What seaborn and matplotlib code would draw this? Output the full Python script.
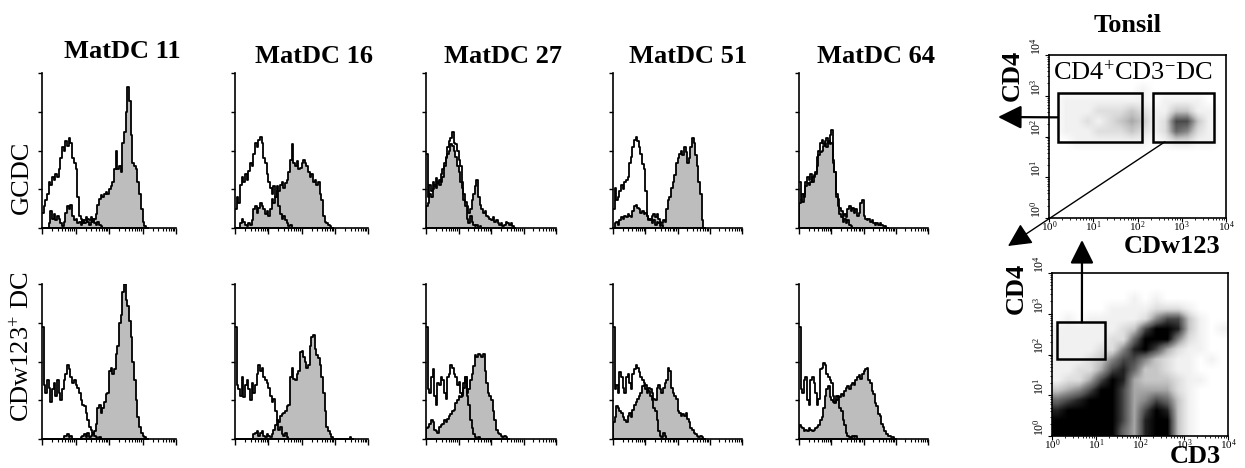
import numpy as np
import matplotlib
matplotlib.use("Agg")
import matplotlib.pyplot as plt
import seaborn as sns
from matplotlib.patches import Rectangle

sns.set_theme(style="ticks")
plt.rcParams["font.family"] = ["Liberation Serif", "DejaVu Serif"]
plt.rcParams["mathtext.fontset"] = "custom"
plt.rcParams["mathtext.rm"] = "Liberation Serif"
plt.rcParams["mathtext.it"] = "Liberation Serif:italic"
plt.rcParams["mathtext.bf"] = "Liberation Serif:bold"
plt.rcParams["text.color"] = "black"
plt.rcParams["xtick.color"] = "black"
plt.rcParams["ytick.color"] = "black"
plt.rcParams["xtick.labelcolor"] = "black"
plt.rcParams["ytick.labelcolor"] = "black"

# ---------------------------------------------------------------------------
# Data: histogram heights (% of max) in channels of 0.05 decade, starting at 10^0
# ---------------------------------------------------------------------------
BIN_W = 0.05

samples = ["MatDC 11", "MatDC 16", "MatDC 27", "MatDC 51", "MatDC 64"]
populations = ["GCDC", "CDw123$^{+}$ DC"]

# GCDC row: control (open) and antibody stain (filled)
gcdc_ctrl_11 = [10, 14, 18, 22, 30, 28, 33, 31, 35, 33, 38, 45, 52, 50, 56, 53, 58, 55, 45, 42,
                38, 20, 8, 6, 3, 5, 7, 4, 2, 4, 6, 3, 2, 4, 2, 1, 0]
gcdc_stain_11 = [0, 0, 0, 0, 3, 11, 6, 9, 5, 8, 6, 3, 1, 4, 10, 14, 12, 15, 8, 5,
                 6, 3, 4, 2, 5, 3, 4, 6, 5, 7, 4, 6, 9, 15, 19, 21, 20, 22, 23, 22,
                 25, 27, 30, 38, 50, 38, 40, 36, 55, 62, 75, 91, 82, 60, 42, 40, 38, 30, 22, 12,
                 4, 1, 0]
gcdc_ctrl_16 = [12, 20, 16, 28, 33, 30, 35, 31, 37, 42, 40, 48, 55, 52, 57, 59, 55, 45, 42, 35,
                30, 26, 22, 27, 20, 24, 14, 9, 6, 8, 5, 3, 1, 2, 0]
gcdc_stain_16 = [0, 0, 0, 3, 6, 4, 2, 1, 3, 2, 5, 12, 14, 10, 13, 16, 14, 12, 9, 11,
                 8, 12, 19, 16, 20, 27, 24, 28, 30, 26, 29, 31, 36, 44, 54, 42, 40, 43, 38, 39,
                 42, 44, 42, 40, 36, 33, 35, 30, 31, 28, 30, 22, 18, 8, 4, 3, 2, 1, 0]
gcdc_ctrl_27 = [48, 20, 28, 24, 30, 28, 32, 29, 31, 30, 33, 42, 45, 52, 56, 58, 62, 55, 54, 50,
                44, 40, 30, 18, 14, 6, 3, 8, 4, 2, 1, 2, 0, 1, 0]
gcdc_stain_27 = [14, 16, 22, 20, 25, 27, 26, 30, 28, 35, 38, 40, 46, 48, 50, 54, 53, 50, 46, 40,
                 36, 30, 26, 22, 17, 14, 10, 12, 18, 22, 27, 31, 20, 15, 12, 10, 11, 8, 7, 6,
                 5, 7, 4, 5, 3, 2, 3, 1, 2, 4, 3, 2, 3, 1, 0]
gcdc_ctrl_51 = [12, 26, 18, 20, 24, 28, 25, 30, 31, 33, 42, 46, 52, 57, 59, 56, 52, 48, 41, 38,
                24, 8, 5, 6, 3, 5, 2, 4, 3, 1, 2, 0]
gcdc_stain_51 = [0, 3, 4, 2, 5, 7, 6, 8, 7, 9, 8, 7, 11, 14, 15, 13, 12, 10, 11, 9,
                 10, 8, 6, 5, 8, 9, 7, 9, 6, 4, 3, 5, 4, 12, 18, 20, 26, 30, 34, 42,
                 45, 48, 50, 47, 52, 49, 42, 45, 52, 58, 55, 47, 40, 30, 22, 5, 0]
gcdc_ctrl_64 = [30, 18, 22, 20, 30, 33, 31, 35, 30, 33, 36, 46, 50, 55, 57, 54, 56, 58, 55, 60,
                63, 42, 36, 20, 14, 9, 7, 4, 6, 3, 5, 2, 1, 0]
gcdc_stain_64 = [16, 18, 17, 22, 27, 29, 28, 30, 33, 34, 35, 40, 47, 49, 50, 53, 55, 52, 56, 54,
                 55, 44, 36, 22, 19, 13, 11, 8, 9, 7, 12, 14, 11, 13, 10, 12, 8, 10, 16, 18,
                 8, 6, 5, 6, 4, 5, 3, 2, 3, 2, 3, 2, 1, 1, 0]

# CDw123+ DC row
pdc_ctrl_11 = [72, 35, 30, 38, 33, 24, 32, 36, 28, 38, 30, 25, 32, 38, 42, 48, 45, 40, 36, 38,
               35, 33, 30, 25, 22, 21, 17, 12, 8, 6, 4, 2, 1, 0, 1, 0]
pdc_stain_11 = [0, 0, 0, 0, 0, 0, 0, 0, 0, 0, 0, 0, 0, 2, 2, 3, 1, 2, 0, 0,
                0, 0, 0, 1, 2, 3, 1, 4, 1, 2, 3, 5, 10, 20, 22, 17, 20, 24, 29, 30,
                44, 46, 42, 45, 55, 60, 75, 80, 95, 100, 90, 86, 76, 66, 50, 38, 25, 14, 8, 4,
                2, 1, 0]
pdc_ctrl_16 = [72, 35, 32, 28, 40, 27, 35, 38, 32, 25, 36, 30, 35, 42, 48, 44, 46, 40, 38, 36,
               33, 28, 24, 26, 18, 12, 6, 8, 3, 2, 4, 1, 0]
pdc_stain_16 = [0, 0, 0, 0, 0, 0, 0, 0, 0, 0, 0, 3, 4, 5, 2, 4, 5, 2, 1, 3,
                2, 1, 3, 6, 9, 12, 11, 15, 16, 17, 18, 21, 22, 40, 46, 39, 38, 42, 44, 56,
                57, 53, 50, 46, 48, 60, 66, 67, 58, 54, 52, 48, 40, 30, 18, 8, 5, 3, 1, 0,
                0, 0, 0, 0, 0, 0, 0, 0, 0, 1, 0]
pdc_ctrl_27 = [72, 32, 30, 40, 45, 28, 22, 36, 35, 40, 38, 30, 26, 40, 42, 48, 46, 42, 40, 35,
               37, 30, 28, 36, 40, 28, 22, 12, 7, 3, 1, 0, 1, 0]
pdc_stain_27 = [7, 8, 10, 12, 11, 6, 5, 4, 8, 9, 10, 12, 11, 13, 15, 16, 18, 19, 23, 25,
                28, 27, 29, 33, 40, 30, 32, 38, 42, 47, 54, 53, 55, 54, 53, 55, 44, 36, 30, 28,
                25, 18, 12, 6, 4, 3, 2, 1, 2, 1, 0]
pdc_ctrl_51 = [72, 32, 35, 30, 43, 40, 33, 30, 40, 42, 36, 32, 42, 45, 48, 46, 43, 40, 38, 36,
               35, 32, 31, 28, 25, 20, 18, 12, 5, 2, 1, 4, 2, 0]
pdc_stain_51 = [11, 14, 21, 20, 18, 17, 14, 12, 11, 15, 17, 14, 19, 22, 24, 26, 28, 30, 34, 35,
                32, 30, 33, 32, 30, 26, 25, 33, 35, 32, 30, 33, 36, 38, 46, 44, 33, 30, 28, 26,
                18, 17, 15, 16, 15, 17, 13, 11, 7, 6, 4, 3, 2, 1, 2, 1, 0]
pdc_ctrl_64 = [72, 32, 30, 38, 40, 25, 22, 38, 40, 36, 30, 22, 26, 45, 46, 49, 48, 42, 40, 38,
               36, 28, 24, 28, 27, 20, 18, 12, 9, 4, 2, 1, 0, 2, 1, 2, 0]
pdc_stain_64 = [9, 8, 7, 5, 6, 5, 7, 6, 5, 6, 7, 8, 9, 12, 14, 20, 28, 32, 34, 27,
                25, 24, 23, 25, 28, 27, 29, 28, 31, 33, 34, 32, 35, 36, 35, 38, 40, 41, 39, 42,
                44, 45, 46, 38, 36, 31, 29, 23, 21, 16, 15, 10, 8, 5, 3, 2, 2, 1, 1, 0]

# Tonsil dot plots: relative event density (0 = empty, 9 = saturated) on a
# 0.25-decade grid, rows listed from 10^4 (top) down to 10^0 (bottom)
tonsil_cdw123_cd4 = [
    [0, 0, 0, 0, 0, 0, 0, 0, 0, 0, 0, 0, 0, 0, 0, 0],
    [0, 0, 0, 0, 0, 0, 0, 0, 0, 0, 0, 0, 0, 0, 0, 0],
    [0, 0, 0, 0, 0, 0, 0, 0, 0, 0, 0, 0, 0, 0, 0, 0],
    [0, 0, 0, 0, 0, 0, 0, 0, 1, 0, 0, 0, 0, 0, 0, 0],
    [0, 1, 1, 1, 1, 1, 1, 1, 1, 0, 1, 1, 1, 1, 0, 0],
    [0, 1, 1, 1, 2, 2, 2, 3, 2, 1, 1, 3, 3, 1, 1, 0],
    [0, 1, 1, 2, 1, 2, 3, 4, 3, 1, 2, 7, 7, 3, 1, 0],
    [0, 1, 1, 1, 2, 2, 2, 3, 2, 1, 2, 6, 5, 2, 1, 0],
    [0, 0, 1, 1, 1, 1, 1, 1, 1, 0, 1, 2, 2, 1, 1, 0],
    [0, 0, 0, 0, 0, 0, 0, 0, 0, 0, 0, 0, 0, 0, 0, 0],
    [0, 0, 0, 0, 0, 0, 0, 0, 0, 0, 0, 0, 0, 0, 0, 0],
    [0, 0, 0, 0, 0, 0, 0, 0, 0, 0, 0, 0, 0, 0, 0, 0],
    [0, 0, 0, 0, 0, 0, 0, 0, 0, 0, 0, 0, 0, 0, 0, 0],
    [0, 0, 0, 0, 0, 0, 0, 0, 0, 0, 0, 0, 0, 0, 0, 0],
    [0, 0, 0, 0, 0, 0, 0, 0, 0, 0, 0, 0, 0, 0, 0, 0],
    [0, 0, 0, 0, 0, 0, 0, 0, 0, 0, 0, 0, 0, 0, 0, 0],
]
tonsil_cd3_cd4 = [
    [0, 0, 0, 0, 0, 0, 0, 0, 0, 0, 0, 0, 0, 0, 0, 0],
    [0, 0, 0, 0, 0, 0, 0, 0, 0, 0, 0, 0, 0, 0, 0, 0],
    [0, 0, 0, 0, 0, 0, 0, 1, 0, 1, 0, 0, 0, 0, 0, 0],
    [0, 0, 0, 0, 0, 1, 1, 1, 1, 2, 2, 2, 1, 0, 0, 0],
    [0, 1, 0, 1, 1, 1, 1, 1, 2, 5, 7, 7, 3, 1, 0, 0],
    [1, 1, 1, 1, 1, 1, 2, 3, 7, 9, 9, 8, 3, 1, 0, 1],
    [1, 1, 1, 1, 1, 2, 2, 6, 9, 9, 9, 5, 2, 1, 0, 0],
    [1, 1, 1, 1, 2, 2, 5, 8, 9, 7, 4, 2, 1, 1, 0, 0],
    [1, 1, 1, 2, 3, 5, 7, 7, 5, 3, 2, 1, 1, 0, 1, 0],
    [1, 1, 2, 2, 4, 7, 8, 6, 3, 3, 2, 1, 1, 0, 0, 0],
    [1, 2, 2, 4, 7, 9, 8, 4, 3, 3, 3, 2, 1, 1, 0, 0],
    [3, 4, 5, 7, 9, 9, 7, 4, 4, 4, 4, 2, 1, 0, 0, 0],
    [6, 7, 8, 9, 9, 9, 7, 4, 5, 7, 6, 3, 1, 0, 0, 0],
    [8, 9, 9, 9, 9, 9, 7, 4, 7, 9, 8, 3, 1, 0, 0, 0],
    [9, 9, 9, 9, 9, 9, 7, 4, 8, 9, 9, 3, 1, 0, 0, 0],
    [9, 9, 9, 9, 9, 9, 6, 4, 8, 9, 9, 3, 1, 0, 0, 0],
]

# Gates (decades): (x0, y0, x1, y1)
gate_pdc = (0.20, 1.87, 2.10, 3.07)
gate_dc = (2.35, 1.87, 3.73, 3.07)
gate_cd4_cd3neg = (0.11, 1.88, 1.21, 2.79)

# ---------------------------------------------------------------------------
W, H = 1245, 468
fig = plt.figure(figsize=(W / 100, H / 100), dpi=100)
fig.patch.set_facecolor("white")

FILL = "#bdbdbd"
LW = 1.3
MINOR = [k + np.log10(m) for k in range(4) for m in range(2, 10)]


def rect(left, top, width, height):
    return [left / W, 1 - (top + height) / H, width / W, height / H]


def hist_axes(ax):
    ax.set_xlim(0, 4)
    ax.set_ylim(0, 100)
    ax.set_facecolor("white")
    for side in ("top", "right"):
        ax.spines[side].set_visible(False)
    for side in ("left", "bottom"):
        ax.spines[side].set_color("black")
        ax.spines[side].set_linewidth(1.2)
    ax.set_yticks([0, 25, 50, 75, 100])
    ax.set_xticks(range(5))
    ax.set_xticks(MINOR, minor=True)
    ax.set_xticklabels([])
    ax.set_yticklabels([])
    ax.tick_params(axis="y", direction="out", length=3, width=1, color="black")
    ax.tick_params(axis="x", which="major", direction="out", length=4, width=1, color="black")
    ax.tick_params(axis="x", which="minor", direction="out", length=2, width=0.8, color="black")
    ax.set_xlabel("")
    ax.set_ylabel("")


def draw_hist(ax, values, filled):
    n = len(values)
    centers = (np.arange(n) + 0.5) * BIN_W
    edges = [i * BIN_W for i in range(n + 1)]
    if filled:
        sns.histplot(x=centers, weights=values, bins=edges, element="step", fill=True,
                     color=FILL, edgecolor="black", linewidth=LW, alpha=1, ax=ax)
    else:
        sns.histplot(x=centers, weights=values, bins=edges, element="step", fill=False,
                     color="black", linewidth=LW, ax=ax)


rows = [
    [(gcdc_ctrl_11, gcdc_stain_11), (gcdc_ctrl_16, gcdc_stain_16), (gcdc_ctrl_27, gcdc_stain_27),
     (gcdc_ctrl_51, gcdc_stain_51), (gcdc_ctrl_64, gcdc_stain_64)],
    [(pdc_ctrl_11, pdc_stain_11), (pdc_ctrl_16, pdc_stain_16), (pdc_ctrl_27, pdc_stain_27),
     (pdc_ctrl_51, pdc_stain_51), (pdc_ctrl_64, pdc_stain_64)],
]

hist_left = [42, 235, 426, 613, 799]
hist_width = [134, 133, 130, 129, 129]
row_top = [73, 284]
HIST_H = 155

for r, row in enumerate(rows):
    for c, (ctrl, stain) in enumerate(row):
        ax = fig.add_axes(rect(hist_left[c], row_top[r], hist_width[c], HIST_H))
        draw_hist(ax, stain, True)
        draw_hist(ax, ctrl, False)
        hist_axes(ax)

# column titles and row labels
title_x = [122, 314, 503, 688, 876]
title_base = [58, 63, 63, 63, 63]
for name, x, y in zip(samples, title_x, title_base):
    fig.text(x / W, 1 - y / H, name, ha="center", va="baseline",
             fontsize=19, fontweight="bold")
fig.text(22 / W, 1 - 177 / H, populations[0], rotation=90, ha="center", va="center", fontsize=19)
fig.text(22 / W, 1 - 347 / H, populations[1], rotation=90, ha="center", va="center", fontsize=19)


# ---------------------------------------------------------------------------
# Tonsil dot plots
def dot_axes(ax, grid):
    ax.imshow(np.array(grid), extent=(0, 4, 0, 4), origin="upper", cmap="Greys",
              vmin=0, vmax=9, interpolation="bilinear", aspect="auto")
    ax.set_xlim(0, 4)
    ax.set_ylim(0, 4)
    for s in ax.spines.values():
        s.set_color("black")
        s.set_linewidth(1.2)
    labels = [f"$10^{{{k}}}$" for k in range(5)]
    ax.set_xticks(range(5), labels=labels, fontsize=8)
    ax.set_yticks(range(5), labels=labels, fontsize=8.5, rotation=90, va="bottom")
    ax.set_xticks(MINOR, minor=True)
    ax.set_yticks(MINOR, minor=True)
    ax.tick_params(which="major", direction="out", length=3, width=0.8, color="black")
    ax.tick_params(axis="x", which="major", pad=-2)
    ax.tick_params(axis="y", which="major", pad=1)
    ax.tick_params(which="minor", direction="out", length=1.5, width=0.6, color="black")
    ax.grid(False)


ax_top = fig.add_axes(rect(1049, 55, 177, 163))
dot_axes(ax_top, tonsil_cdw123_cd4)
for g in (gate_pdc, gate_dc):
    ax_top.add_patch(Rectangle((g[0], g[1]), g[2] - g[0], g[3] - g[1],
                               fill=False, edgecolor="black", linewidth=1.8, zorder=3))
ax_top.text(0.1, 3.55, "CD4$^{+}$CD3$^{-}$DC", fontsize=19, ha="left", va="center")

ax_bot = fig.add_axes(rect(1052, 273, 176, 163))
dot_axes(ax_bot, tonsil_cd3_cd4)
g = gate_cd4_cd3neg
ax_bot.add_patch(Rectangle((g[0], g[1]), g[2] - g[0], g[3] - g[1],
                           fill=False, edgecolor="black", linewidth=1.8, zorder=3))

# gating arrows
head = dict(arrowstyle="-|>", color="black", mutation_scale=36, shrinkA=0, shrinkB=0)
ax_top.annotate("", xy=(998 / W, 1 - 117 / H), xycoords="figure fraction",
                xytext=(gate_pdc[0], (gate_pdc[1] + gate_pdc[3]) / 2), textcoords="data",
                arrowprops=dict(head, lw=1.6), annotation_clip=False)
ax_top.annotate("", xy=(1008 / W, 1 - 246 / H), xycoords="figure fraction",
                xytext=(2.62, gate_dc[1]), textcoords="data",
                arrowprops=dict(head, lw=1.0), annotation_clip=False)
ax_bot.annotate("", xy=(1082 / W, 1 - 240 / H), xycoords="figure fraction",
                xytext=(0.68, gate_cd4_cd3neg[3]), textcoords="data",
                arrowprops=dict(head, lw=1.6), annotation_clip=False)

# axis titles for the dot plots
fig.text(1128 / W, 1 - 32 / H, "Tonsil", ha="center", va="baseline", fontsize=19, fontweight="bold")
fig.text(1012 / W, 1 - 75 / H, "CD4", rotation=90, ha="center", va="center",
         fontsize=19, fontweight="bold")
fig.text(1172 / W, 1 - 253 / H, "CDw123", ha="center", va="baseline", fontsize=19, fontweight="bold")
fig.text(1016 / W, 1 - 288 / H, "CD4", rotation=90, ha="center", va="center",
         fontsize=19, fontweight="bold")
fig.text(1195 / W, 1 - 463 / H, "CD3", ha="center", va="baseline", fontsize=19, fontweight="bold")

fig.savefig("out.png", dpi=100)
